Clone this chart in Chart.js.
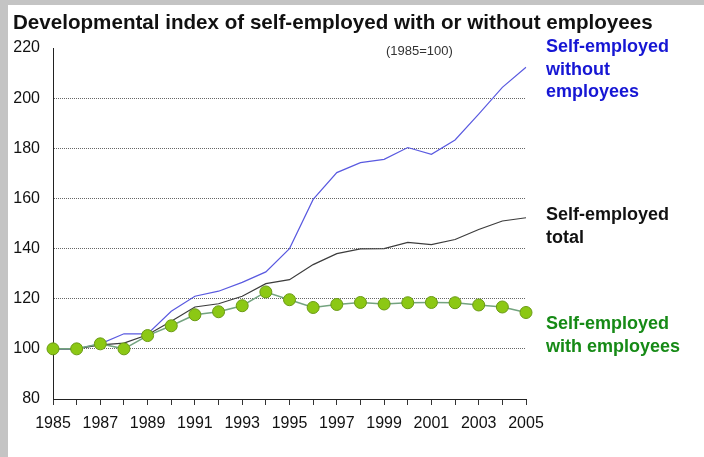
<!DOCTYPE html>
<html>
<head>
<meta charset="utf-8">
<script src="https://cdn.jsdelivr.net/npm/chart.js@4"></script>
<style>
  html, body { margin: 0; padding: 0; background: #fff; }
  #wrap { position: relative; width: 704px; height: 457px; overflow: hidden; font-family: "Liberation Sans", Arial, sans-serif; }
  #chart { position: absolute; left: 0; top: 0; }
  .frame-left { position: absolute; left: 0; top: 0; width: 8px; height: 457px; background: #c4c4c4; }
  .frame-top { position: absolute; left: 0; top: 0; width: 704px; height: 5px; background: #c4c4c4; }
  .title { position: absolute; left: 13px; top: 9px; font-size: 20.6px; font-weight: bold; line-height: 26px; color: #111; white-space: nowrap; }
  .note { position: absolute; left: 386px; top: 43px; font-size: 13px; line-height: 16px; color: #333; }
  .series-label { position: absolute; left: 546px; font-size: 18px; font-weight: bold; line-height: 22.5px; white-space: nowrap; }
</style>
</head>
<body>
<div id="wrap">
  <canvas id="chart" width="704" height="457"></canvas>
  <div class="frame-left"></div>
  <div class="frame-top"></div>
  <div class="title">Developmental index of self-employed with or without employees</div>
  <div class="note">(1985=100)</div>
  <div class="series-label" style="top:35px;color:#1616d4">Self-employed<br>without<br>employees</div>
  <div class="series-label" style="top:203px;color:#111">Self-employed<br>total</div>
  <div class="series-label" style="top:312px;color:#168a16">Self-employed<br>with employees</div>
</div>
<script>
const years = ['1985', '1986', '1987', '1988', '1989', '1990', '1991', '1992', '1993', '1994', '1995',
               '1996', '1997', '1998', '1999', '2000', '2001', '2002', '2003', '2004', '2005'];

const withoutEmployees = [100, 100, 102, 106, 106, 115, 121, 123, 126.5, 130.7, 140,
                          159.6, 170.3, 174.3, 175.6, 180.3, 177.6, 183.3, 193.6, 204.3, 212.3];
const totalSelfEmployed = [100, 100, 101.6, 102.3, 105.6, 111, 116.7, 118, 121, 126, 127.6,
                           133.6, 138, 139.9, 140, 142.5, 141.6, 143.6, 147.6, 151, 152.3];
const withEmployees = [100, 100, 102, 100, 105.3, 109.2, 113.6, 114.8, 117.2, 122.7, 119.6,
                       116.5, 117.7, 118.5, 117.9, 118.4, 118.5, 118.4, 117.5, 116.7, 114.5];

const yTicks = [80, 100, 120, 140, 160, 180, 200, 220];

const ctx = document.getElementById('chart');
new Chart(ctx, {
    type: 'line',
    data: {
        labels: years,
        datasets: [{
            // first dataset is drawn on top
            data: withEmployees,
            borderColor: '#73a37f',
            borderWidth: 1.5,
            pointRadius: 6,
            pointBackgroundColor: '#8cc814',
            pointBorderColor: '#6a9a14',
            pointBorderWidth: 1,
            tension: 0
        }, {
            data: totalSelfEmployed,
            borderColor: '#3c3c3c',
            borderWidth: 1.2,
            pointRadius: 0,
            tension: 0
        }, {
            data: withoutEmployees,
            borderColor: '#5a5ae0',
            borderWidth: 1.2,
            pointRadius: 0,
            tension: 0
        }]
    },
    options: {
        responsive: false,
        animation: false,
        layout: { padding: { top: 48, right: 178, left: 0, bottom: 0 } },
        plugins: {
            legend: { display: false },
            tooltip: { enabled: false }
        },
        scales: {
            x: {
                offset: false,
                grid: {
                    drawOnChartArea: false,
                    drawTicks: true,
                    tickLength: 6,
                    tickColor: '#333'
                },
                border: { color: '#222', width: 1 },
                ticks: {
                    autoSkip: false,
                    maxRotation: 0,
                    padding: 9,
                    color: '#111',
                    font: { family: '"Liberation Sans", Arial, sans-serif', size: 16 },
                    callback: function(value, index) {
                        return index % 2 === 0 ? years[index] : '';
                    }
                },
                afterFit: (scale) => { scale.height = 58; }
            },
            y: {
                min: 80,
                max: 220,
                afterBuildTicks: (scale) => { scale.ticks = yTicks.map(v => ({ value: v })); },
                grid: {
                    drawTicks: false,
                    color: (c) => (c.tick && (c.tick.value === 80 || c.tick.value === 220)) ? 'rgba(0,0,0,0)' : '#666',
                    lineWidth: 1
                },
                border: { color: '#222', width: 1, dash: [1, 1] },
                ticks: {
                    padding: 13,
                    color: '#111',
                    font: { family: '"Liberation Sans", Arial, sans-serif', size: 16 }
                },
                afterFit: (scale) => { scale.width = 53; }
            }
        }
    }
});
</script>
</body>
</html>
